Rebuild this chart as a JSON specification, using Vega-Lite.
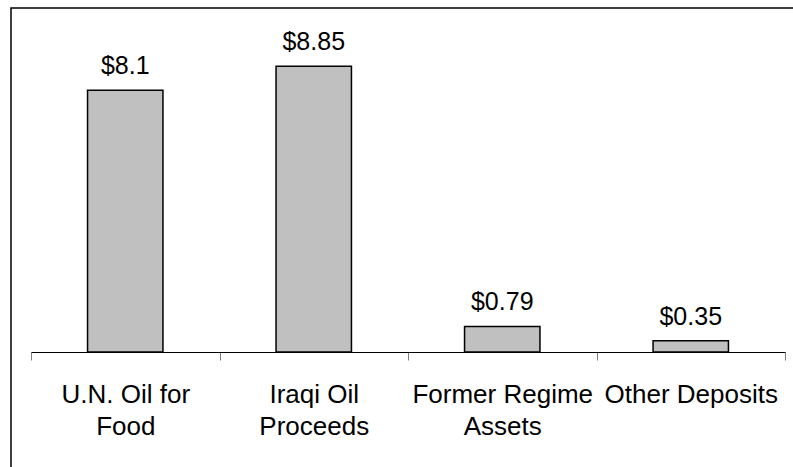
{
  "$schema": "https://vega.github.io/schema/vega-lite/v6.json",
  "width": 792,
  "height": 469,
  "autosize": {"type": "none"},
  "padding": {"left": 11, "top": 8, "right": -10, "bottom": -10},
  "background": "white",
  "config": {
    "view": {"stroke": "black", "strokeWidth": 1.5},
    "font": "Liberation Sans"
  },
  "data": {
    "values": [
      {"category": "U.N. Oil for\nFood", "value": 8.1},
      {"category": "Iraqi Oil\nProceeds", "value": 8.85},
      {"category": "Former Regime\nAssets", "value": 0.79},
      {"category": "Other Deposits", "value": 0.35}
    ]
  },
  "encoding": {
    "x": {
      "field": "category",
      "type": "nominal",
      "sort": null,
      "scale": {"range": [20, 774], "paddingInner": 0, "paddingOuter": 0},
      "axis": {
        "title": null,
        "orient": "bottom",
        "offset": -125,
        "labelAngle": 0,
        "labelExpr": "isValid(datum.value) ? split(datum.value, '\\n') : ''",
        "labelFont": "Liberation Sans",
        "labelFontSize": 26,
        "labelColor": "black",
        "labelLineHeight": 32.6,
        "labelPadding": 21,
        "labelBaseline": "top",
        "labelLimit": 400,
        "labelOverlap": false,
        "tickBand": "extent",
        "tickSize": 8,
        "tickColor": "#808080",
        "tickWidth": 1,
        "domainColor": "black",
        "domainWidth": 1,
        "grid": false
      }
    },
    "y": {
      "field": "value",
      "type": "quantitative",
      "scale": {"domain": [0, 10], "range": [344, 21]},
      "axis": null
    }
  },
  "layer": [
    {
      "mark": {"type": "bar", "width": {"band": 0.4}, "fill": "#c0c0c0", "stroke": "black", "strokeWidth": 1.5}
    },
    {
      "mark": {"type": "text", "baseline": "alphabetic", "dy": -16, "fontSize": 25, "font": "Liberation Sans", "color": "black"},
      "encoding": {"text": {"field": "value", "type": "quantitative", "format": "$.3~g"}}
    }
  ]
}
